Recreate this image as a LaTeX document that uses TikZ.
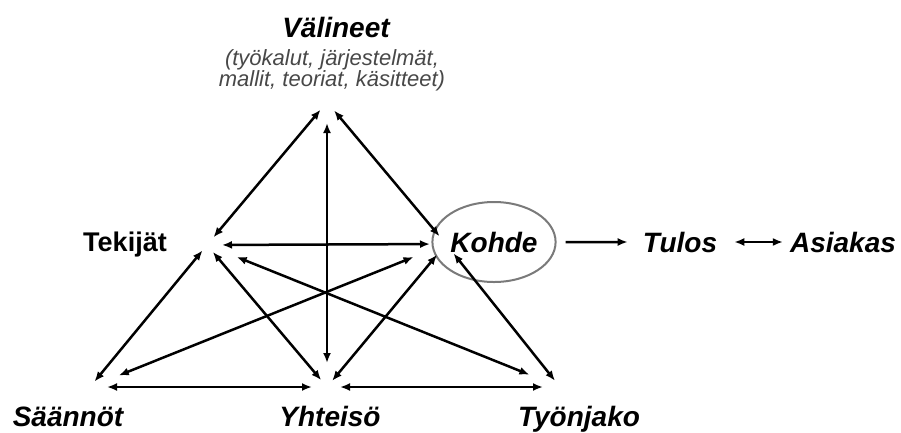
\documentclass[tikz,border=0pt]{standalone}
\usepackage{fontspec}
\setmainfont{Liberation Sans}
\usepackage{tikz}
\usetikzlibrary{arrows.meta,shapes.geometric}
\definecolor{ringcol}{HTML}{7A7A7A}
\definecolor{notecol}{HTML}{484848}
\newcommand{\rel}[4]{% #1 from, #2 to, #3 gap at #1, #4 gap at #2
  \draw[relarrow, shorten <=#3pt, shorten >=#4pt] (#1) -- (#2);
}

\begin{document}
\begin{tikzpicture}[x=1pt, y=-1pt,
    relarrow/.style={{Latex[length=10pt,width=8pt]}-{Latex[length=10pt,width=8pt]}, line width=2.5pt},
    outarrow/.style={-{Latex[length=10pt,width=8pt]}, line width=2.5pt},
    every node/.style={font=\fontsize{28}{30}\selectfont\bfseries\itshape, inner sep=0pt}]
  \useasboundingbox (0,0) rectangle (901,432);
  % corners of the two triangles
  \coordinate (v) at (327,102);
  \coordinate (t) at (207,245);
  \coordinate (k) at (446,244);
  \coordinate (s) at (90,387);
  \coordinate (y) at (327,387);
  \coordinate (j) at (560,387);

  \node[anchor=base] (Vali) at (336,37) {Välineet};
  \node[anchor=base, font=\fontsize{22}{22}\selectfont\itshape, text=notecol] (Note1) at (332,65) {(työkalut, järjestelmät,};
  \node[anchor=base, font=\fontsize{22}{22}\selectfont\itshape, text=notecol] (Note2) at (332,86) {mallit, teoriat, käsitteet)};
  \node[anchor=base, font=\fontsize{27}{30}\selectfont\bfseries] (Tek) at (125,251) {Tekijät};
  \node[ellipse, draw=ringcol, line width=2pt, minimum width=118pt, minimum height=80pt] (Koh) at (494,242) {Kohde};
  \node[anchor=base] (Tul) at (680,252) {Tulos};
  \node[anchor=base] (Asi) at (843,252) {Asiakas};
  \node[anchor=base] (Saa) at (68,426) {Säännöt};
  \node[anchor=base] (Yht) at (330,426) {Yhteisö};
  \node[anchor=base] (Tyo) at (579,426) {Työnjako};

  \rel{v}{t}{10}{10}
  \rel{v}{k}{11}{10}
  \rel{v}{y}{21}{24}
  \rel{t}{k}{15}{16}
  \rel{t}{s}{7}{7}
  \rel{t}{y}{9}{9}
  \rel{t}{j}{32}{33}
  \rel{k}{s}{35}{31}
  \rel{k}{y}{14}{8}
  \rel{k}{j}{12}{8}
  \rel{s}{y}{17}{15}
  \rel{y}{j}{13}{17}

  \draw[outarrow, shorten <=9pt, shorten >=15pt] (Koh) -- (Tul);
  \draw[relarrow, shorten <=17pt, shorten >=7pt] (Tul) -- (Asi);
\end{tikzpicture}
\end{document}
